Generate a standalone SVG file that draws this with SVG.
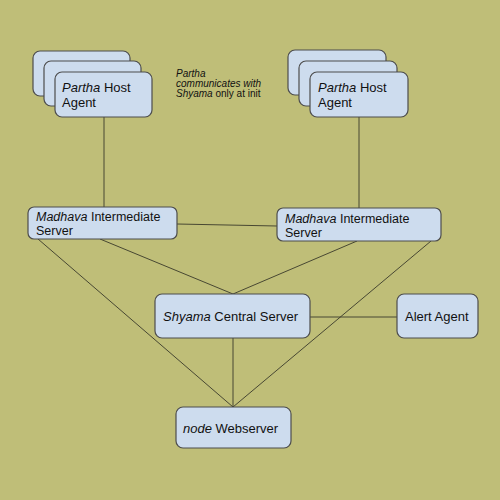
<svg xmlns="http://www.w3.org/2000/svg" width="500" height="500" viewBox="0 0 500 500">
<style>
.box{fill:#cddcee;stroke:#4d4d4d;stroke-width:1.2}
.ln{stroke:#3a3a2a;stroke-width:0.9;fill:none}
text{font-family:"Liberation Sans",Arial,sans-serif;fill:#111}
.t13{font-size:13px}
.t12{font-size:12.5px}
.note{font-size:10px}
.i{font-style:italic}
</style>
<rect width="500" height="500" fill="#bfbe78"/>
<g id="connectors">
<line class="ln" x1="104" y1="117" x2="104" y2="207"/>
<line class="ln" x1="359" y1="117" x2="359" y2="208"/>
<line class="ln" x1="177" y1="224" x2="277" y2="226"/>
<line class="ln" x1="100" y1="239" x2="233" y2="294"/>
<line class="ln" x1="357" y1="241" x2="233" y2="294"/>
<line class="ln" x1="38" y1="239" x2="233" y2="407"/>
<line class="ln" x1="431" y1="241" x2="233" y2="407"/>
<line class="ln" x1="233" y1="338" x2="233" y2="407"/>
<line class="ln" x1="310" y1="317" x2="397" y2="317"/>
</g>
<g id="partha-left">
<rect class="box" x="33" y="51" width="97" height="45" rx="7"/>
<rect class="box" x="44" y="61" width="97" height="45" rx="7"/>
<rect class="box" x="55" y="72" width="97" height="45" rx="7"/>
<text class="t13" x="62" y="92"><tspan class="i">Partha</tspan> Host</text>
<text class="t13" x="62" y="107">Agent</text>
</g>
<g id="partha-right">
<rect class="box" x="288" y="50" width="98" height="45" rx="7"/>
<rect class="box" x="299" y="61" width="98" height="45" rx="7"/>
<rect class="box" x="310" y="72" width="98" height="45" rx="7"/>
<text class="t13" x="318" y="92"><tspan class="i">Partha</tspan> Host</text>
<text class="t13" x="318" y="107">Agent</text>
</g>
<g id="note">
<text class="note i" x="176" y="77">Partha</text>
<text class="note i" x="176" y="87">communicates with</text>
<text class="note" x="176" y="97"><tspan class="i">Shyama</tspan> only at init</text>
</g>
<g id="madhava-left">
<rect class="box" x="28" y="207" width="149" height="32" rx="6"/>
<text class="t12" x="36" y="221"><tspan class="i">Madhava</tspan> Intermediate</text>
<text class="t12" x="36" y="235">Server</text>
</g>
<g id="madhava-right">
<rect class="box" x="277" y="208" width="164" height="33" rx="6"/>
<text class="t12" x="285" y="223"><tspan class="i">Madhava</tspan> Intermediate</text>
<text class="t12" x="285" y="237">Server</text>
</g>
<g id="shyama">
<rect class="box" x="155" y="294" width="155" height="44" rx="7"/>
<text class="t13" x="163" y="321"><tspan class="i">Shyama</tspan> Central Server</text>
</g>
<g id="alert">
<rect class="box" x="397" y="294" width="81" height="44" rx="7"/>
<text class="t13" x="405" y="321">Alert Agent</text>
</g>
<g id="webserver">
<rect class="box" x="176" y="407" width="115" height="41" rx="7"/>
<text class="t13" x="183" y="433"><tspan class="i">node</tspan> Webserver</text>
</g>
</svg>
